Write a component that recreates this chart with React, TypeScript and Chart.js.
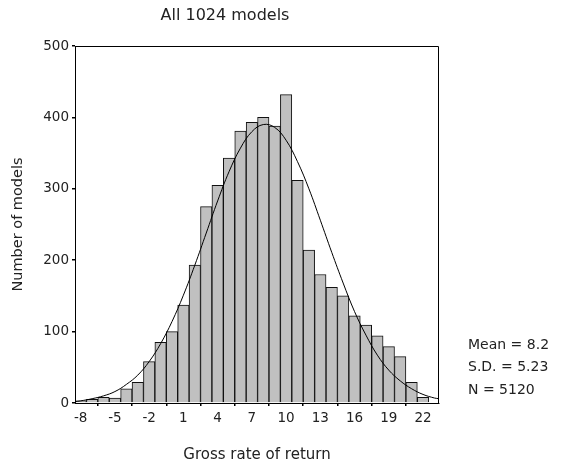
import React, { useEffect, useRef } from "react";
import { Chart, registerables } from "chart.js";

Chart.register(...registerables);

// Histogram bins (centre of each 1-unit bin) and counts
const binCenters = [-8, -7, -6, -5, -4, -3, -2, -1, 0, 1, 2, 3, 4, 5, 6, 7, 8, 9, 10, 11, 12, 13, 14, 15, 16, 17, 18, 19, 20, 21, 22];
const counts = [3, 5, 8, 7, 20, 29, 58, 85, 100, 137, 193, 275, 305, 343, 381, 393, 400, 388, 432, 312, 214, 180, 162, 150, 122, 109, 94, 79, 65, 29, 8];

// Fitted normal curve
const curveX = [-8.5, -8, -7, -6, -5, -4, -3, -2, -1, 0, 1, 2, 3, 4, 5, 6, 7, 8, 9, 10, 11, 12, 13, 14, 15, 16, 17, 18, 19, 20, 21, 22, 23, 23.4];
const curveY = [2, 3, 6, 10, 16, 26, 39, 58, 83, 114, 151, 193, 238, 283, 324, 357, 380, 390, 386, 368, 338, 300, 256, 211, 168, 128, 95, 67, 46, 31, 20, 12, 7, 6];

const xTickValues = [-8, -5, -2, 1, 4, 7, 10, 13, 16, 19, 22];
const yTickValues = [0, 100, 200, 300, 400, 500];

const chartTitle = "All 1024 models";
const xTitle = "Gross rate of return";
const yTitle = "Number of models";
const statLines = ["Mean = 8.2", "S.D. = 5.23", "N = 5120"];

const FONT = "'DejaVu Sans', sans-serif";
const TEXT = "#222";

export default function App() {
  const ref = useRef<HTMLCanvasElement | null>(null);
  useEffect(() => {
    if (!ref.current) return;
    const overlay = {
      id: "overlay",
      afterDraw(chart: any) {
        const { ctx, chartArea } = chart;
        const l = Math.round(chartArea.left);
        const r = Math.round(chartArea.right) - 0.5;
        const t = Math.round(chartArea.top) + 0.5;
        const b = Math.round(chartArea.bottom);
        ctx.save();
        ctx.strokeStyle = "#000";
        ctx.lineWidth = 1;
        ctx.beginPath();
        ctx.moveTo(l, t);
        ctx.lineTo(r, t);
        ctx.lineTo(r, b);
        ctx.stroke();
        ctx.fillStyle = TEXT;
        ctx.font = `16px ${FONT}`;
        ctx.textAlign = "center";
        ctx.textBaseline = "middle";
        ctx.fillText(chartTitle, chartArea.left + 150, 16);
        ctx.textAlign = "left";
        ctx.font = `14px ${FONT}`;
        statLines.forEach((s, i) => {
          ctx.fillText(s, chartArea.right + 29, 345 + i * 22.7);
        });
        ctx.restore();
      },
    };
    const chart = new Chart(ref.current, {
      type: "bar",
      data: {
        datasets: [
          {
            type: "line",
            data: curveX.map((x, i) => ({ x, y: curveY[i] })),
            borderColor: "#000",
            borderWidth: 1,
            pointRadius: 0,
            tension: 0.4,
            fill: false,
            order: 0,
          } as any,
          {
            type: "bar",
            data: binCenters.map((x, i) => ({ x, y: counts[i] })),
            backgroundColor: "#c0c0c0",
            borderColor: "#111",
            borderWidth: 1,
            barPercentage: 1,
            categoryPercentage: 1,
            order: 1,
          },
        ],
      },
      options: {
        animation: false,
        responsive: false,
        layout: { padding: { top: 46, right: 124, left: 0, bottom: 0 } },
        plugins: { legend: { display: false }, tooltip: { enabled: false }, title: { display: false } },
        scales: {
          x: {
            type: "linear",
            offset: false,
            min: -8.5,
            max: 23.4,
            afterBuildTicks: (s: any) => {
              s.ticks = xTickValues.map((v) => ({ value: v }));
            },
            afterFit: (s: any) => {
              s.height = 65;
            },
            grid: { display: true, drawOnChartArea: false, drawTicks: true, tickLength: 3, color: "#000", lineWidth: 1.5 },
            border: { display: true, color: "#000" },
            ticks: { color: TEXT, font: { family: FONT, size: 13.5 }, padding: 4, maxRotation: 0, autoSkip: false },
            title: { display: true, text: xTitle, color: TEXT, font: { family: FONT, size: 15 }, padding: { top: 0, bottom: 4 } },
          },
          y: {
            min: 0,
            max: 500,
            afterBuildTicks: (s: any) => {
              s.ticks = yTickValues.map((v) => ({ value: v }));
            },
            afterFit: (s: any) => {
              s.width = 75;
            },
            grid: { display: true, drawOnChartArea: false, drawTicks: true, tickLength: 3, color: "#000", lineWidth: 1.5 },
            border: { display: true, color: "#000" },
            ticks: { color: TEXT, font: { family: FONT, size: 13.5 }, padding: 3 },
            title: { display: true, text: yTitle, color: TEXT, font: { family: FONT, size: 14.5 }, padding: { top: 10, bottom: 0 } },
          },
        },
      },
      plugins: [overlay],
    });
    return () => chart.destroy();
  }, []);
  return (
    <div style={{ position: "absolute", left: 0, top: 0, width: 563, height: 468 }}>
      <canvas ref={ref} width={563} height={468} />
    </div>
  );
}
